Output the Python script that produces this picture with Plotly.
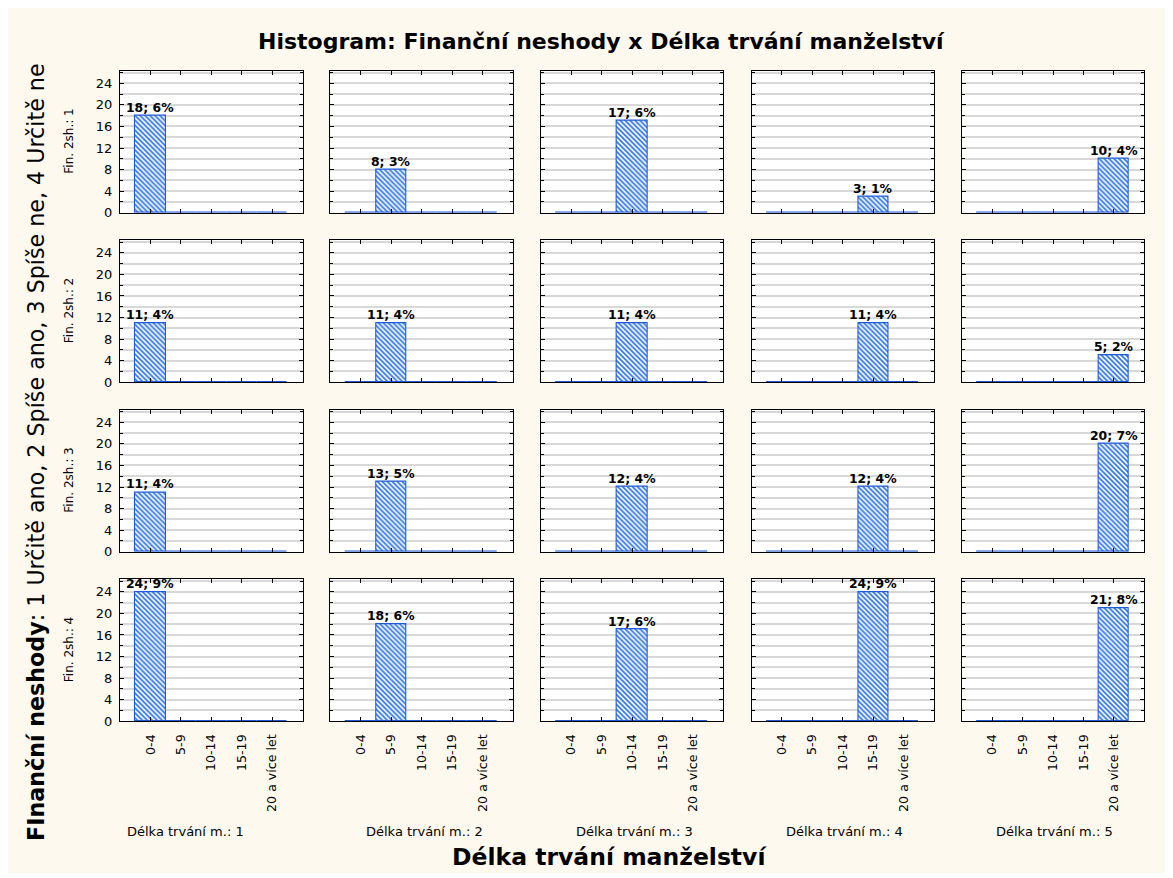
import plotly.graph_objects as go

categories = ["0-4", "5-9", "10-14", "15-19", "20 a více let"]
row_labels = ["Fin. 2sh.: 1", "Fin. 2sh.: 2", "Fin. 2sh.: 3", "Fin. 2sh.: 4"]
col_labels = ["Délka trvání m.: 1", "Délka trvání m.: 2", "Délka trvání m.: 3",
              "Délka trvání m.: 4", "Délka trvání m.: 5"]
# counts[row][col] : the single nonzero bar in each panel sits at category index == col
counts = [
    [18, 8, 17, 3, 10],
    [11, 11, 11, 11, 5],
    [11, 13, 12, 12, 20],
    [24, 18, 17, 24, 21],
]
percents = [
    [6, 3, 6, 1, 4],
    [4, 4, 4, 4, 2],
    [4, 5, 4, 4, 7],
    [9, 6, 6, 9, 8],
]
title_text = "Histogram: Finanční neshody x Délka trvání manželství"
x_title = "Délka trvání manželství"
y_title = "<b>FInanční neshody</b>: 1 Určitě ano, 2 Spíše ano, 3 Spíše ne, 4 Určitě ne"

# figure is placed by the page at an 8px body margin
OFF = 8
W, H = 1157, 865
col_left = [v - OFF for v in [120, 330.3, 540.7, 751.5, 961.7]]
col_w = 182.6
row_top = [v - OFF for v in [70.7, 240.2, 409.7, 579.2]]
row_h = 142.0
col_label_x = [v - OFF for v in [185, 424, 634, 844, 1054]]

FONT = "DejaVu Sans, Verdana, sans-serif"
BLUE_LINE = "#1F5AD8"
BLUE_FILL = "#2F74E8"
GRID = "#D8D8D8"
CREAM = "#FEF9EE"

fig = go.Figure()
layout = dict()
annotations = []

for r in range(4):
    for c in range(5):
        k = r * 5 + c + 1
        xs = "" if k == 1 else str(k)
        xname, yname = "x" + xs, "y" + xs
        vals = [0] * 5
        vals[c] = counts[r][c]
        fig.add_trace(go.Bar(
            x=list(range(5)), y=vals, width=1.0,
            marker=dict(color="#FFFFFF",
                        line=dict(color=BLUE_LINE, width=1.1),
                        pattern=dict(shape="\\", fgcolor=BLUE_FILL, bgcolor="#FFFFFF",
                                     size=3.5, solidity=0.5, fillmode="replace")),
            xaxis=xname, yaxis=yname, showlegend=False, hoverinfo="skip",
        ))
        annotations.append(dict(
            text=f"<b>{counts[r][c]}; {percents[r][c]}%</b>",
            x=c, y=counts[r][c], xref=xname, yref=yname,
            xanchor="center", yanchor="bottom", yshift=-1, showarrow=False,
            font=dict(family=FONT, size=12.4, color="#000000")))
        x0 = col_left[c] / W
        x1 = (col_left[c] + col_w) / W
        y1 = 1 - row_top[r] / H
        y0 = 1 - (row_top[r] + row_h) / H
        layout["xaxis" + xs] = dict(
            domain=[x0, x1], anchor=yname, range=[-1, 5], automargin=False,
            tickvals=list(range(5)), ticktext=categories,
            showticklabels=(r == 3), tickangle=-90, ticklabelstandoff=7,
            tickfont=dict(family=FONT, size=12.6, color="#000000"),
            ticks="inside", ticklen=4, tickcolor="#000000",
            showline=True, linecolor="#000000", linewidth=1.2, mirror="ticks",
            showgrid=False, zeroline=False, fixedrange=True,
        )
        layout["yaxis" + xs] = dict(
            domain=[y0, y1], anchor=xname, range=[0, 26.35], automargin=False,
            tickvals=[0, 4, 8, 12, 16, 20, 24],
            showticklabels=(c == 0), ticklabelstandoff=4,
            tickfont=dict(family=FONT, size=13, color="#000000"),
            ticks="inside", ticklen=4, tickcolor="#000000",
            showline=True, linecolor="#000000", linewidth=1.2, mirror="ticks",
            showgrid=True, gridcolor=GRID, gridwidth=1.5,
            minor=dict(tickvals=[2, 6, 10, 14, 18, 22, 26], showgrid=True, gridcolor=GRID,
                       gridwidth=1.5, ticks="inside", ticklen=3, tickcolor="#000000"),
            zeroline=False, fixedrange=True,
        )

for r in range(4):
    annotations.append(dict(
        text=row_labels[r], x=(69 - OFF) / W, y=1 - (row_top[r] + row_h / 2) / H,
        xref="paper", yref="paper", showarrow=False, textangle=-90,
        font=dict(family=FONT, size=12, color="#000000"),
        xanchor="center", yanchor="middle"))
for c in range(5):
    annotations.append(dict(
        text=col_labels[c], x=col_label_x[c] / W, y=1 - (831 - OFF) / H,
        xref="paper", yref="paper", showarrow=False,
        font=dict(family=FONT, size=13, color="#000000"),
        xanchor="center", yanchor="middle"))
annotations.append(dict(
    text="<b>" + title_text + "</b>", x=(601 - OFF) / W, y=1 - (42 - OFF) / H,
    xref="paper", yref="paper", showarrow=False,
    font=dict(family=FONT, size=22, color="#000000"),
    xanchor="center", yanchor="middle"))
annotations.append(dict(
    text="<b>" + x_title + "</b>", x=(609 - OFF) / W, y=1 - (857 - OFF) / H,
    xref="paper", yref="paper", showarrow=False,
    font=dict(family=FONT, size=23.5, color="#000000"),
    xanchor="center", yanchor="middle"))
annotations.append(dict(
    text=y_title, x=(36 - OFF) / W, y=1 - (452 - OFF) / H,
    xref="paper", yref="paper", showarrow=False, textangle=-90,
    font=dict(family=FONT, size=22.2, color="#000000"),
    xanchor="center", yanchor="middle"))

layout.update(dict(
    width=W, height=H,
    margin=dict(l=0, r=0, t=0, b=0, autoexpand=False),
    paper_bgcolor=CREAM, plot_bgcolor="#FFFFFF",
    bargap=0,
    annotations=annotations,
))
fig.update_layout(**layout)
fig.write_html("out.html")
